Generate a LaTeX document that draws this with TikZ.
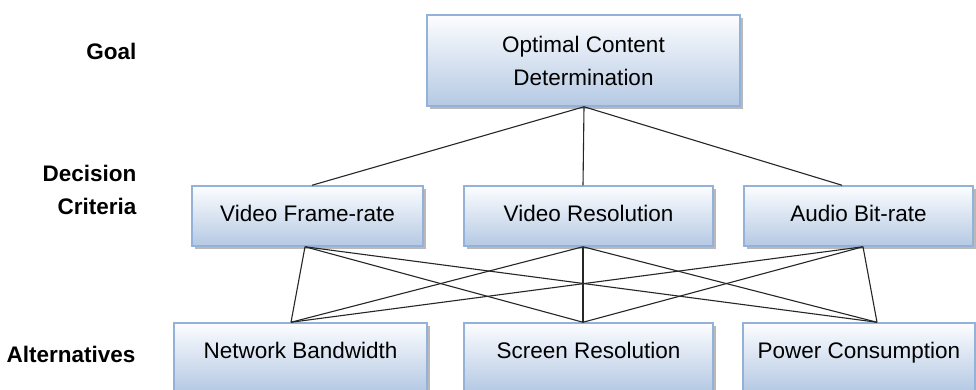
\documentclass[tikz,border=0pt]{standalone}
\usepackage{fontspec}
\setmainfont{Liberation Sans}
\usetikzlibrary{shadows}
\definecolor{boxtop}{HTML}{FCFDFF}
\definecolor{boxbot}{HTML}{B5C9E3}
\definecolor{boxedge}{HTML}{94B2D8}
\tikzset{
  hbox/.style={draw=boxedge, line width=1.5pt, top color=boxtop, bottom color=boxbot,
    inner sep=0pt, align=center, font=\fontsize{22.5}{33}\selectfont,
    drop shadow={shadow xshift=3pt, shadow yshift=-3pt, fill=black!50, opacity=.55}},
  onerow/.style={text height=16pt, text depth=4.5pt},
  lowrow/.style={text height=16pt, text depth=12.5pt},
  lvl/.style={anchor=east, align=right, font=\fontsize{22.5}{33}\selectfont\bfseries},
  link/.style={draw=black!85, line width=1.1pt}
}
\begin{document}
\begin{tikzpicture}[x=1pt,y=-1pt]
\clip (0,0) rectangle (976,389);
\fill[white] (0,0) rectangle (976,389);

% level captions
\node[lvl] (lgoal) at (140,51) {Goal};
\node[lvl] (lcrit) at (140,190) {Decision\\Criteria};
\node[lvl] (lalt)  at (139,354) {Alternatives};

% goal
\node[hbox, minimum width=313pt, minimum height=91pt] (goal) at (583.5,60.5)
  {Optimal Content\\Determination};

% criteria
\node[hbox, onerow, minimum width=231pt, minimum height=60pt] (fr) at (307.5,216) {Video Frame-rate};
\node[hbox, onerow, minimum width=249pt, minimum height=60pt] (vr) at (588.5,216) {Video Resolution};
\node[hbox, onerow, minimum width=229pt, minimum height=60pt] (ab) at (858.5,216) {Audio Bit-rate};

% alternatives
\node[hbox, lowrow, minimum width=253pt, minimum height=68pt] (nb) at (300.5,357) {Network Bandwidth};
\node[hbox, lowrow, minimum width=249pt, minimum height=68pt] (sr) at (588.5,357) {Screen Resolution};
\node[hbox, lowrow, minimum width=232pt, minimum height=68pt] (pc) at (859,357) {Power Consumption};

% attachment points on the box edges
\coordinate (g0) at ([xshift=0.5pt]goal.south);
\coordinate (frT) at ([xshift=4.5pt]fr.north);
\coordinate (vrT) at ([xshift=-5.5pt]vr.north);
\coordinate (abT) at ([xshift=-16.5pt]ab.north);
\coordinate (frB) at ([xshift=-2.5pt]fr.south);
\coordinate (vrB) at ([xshift=-5.5pt]vr.south);
\coordinate (abB) at ([xshift=4.5pt]ab.south);
\coordinate (nbT) at ([xshift=-9.5pt]nb.north);
\coordinate (srT) at ([xshift=-5.5pt]sr.north);
\coordinate (pcT) at ([xshift=18pt]pc.north);

% goal to criteria
\foreach \c in {frT,vrT,abT} \draw[link] (g0) -- (\c);
% criteria to alternatives
\foreach \c in {frB,vrB,abB}
  \foreach \a in {nbT,srT,pcT}
    \draw[link] (\c) -- (\a);
\end{tikzpicture}
\end{document}
